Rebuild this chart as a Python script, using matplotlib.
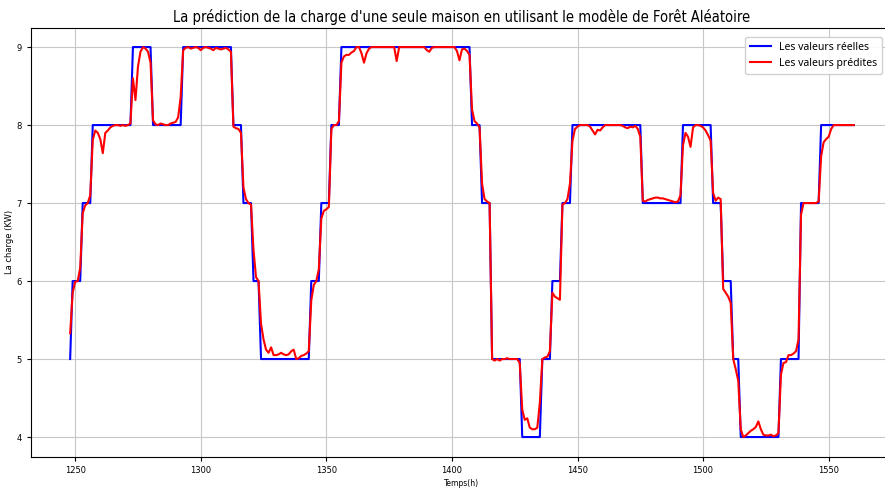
import numpy as np
import matplotlib
matplotlib.use("Agg")
import matplotlib.pyplot as plt

# heures de la fenêtre de test
start_hour = 1248
end_hour = 1560

# charge réelle : paliers (niveau en kW, nombre d'heures)
real_levels = [5, 6, 7, 8, 9, 8, 9, 8, 7, 6, 5, 6, 7, 8, 9, 8, 7, 5, 4, 5, 6, 7, 8, 7, 8, 7, 6, 5, 4, 5, 7, 8]
real_hours = [1, 4, 4, 16, 8, 12, 20, 4, 4, 3, 20, 4, 4, 4, 52, 4, 4, 12, 8, 4, 4, 4, 28, 16, 12, 4, 4, 3, 16, 8, 8, 14]

# charge prédite par la forêt aléatoire, heure par heure
predicted = [
    5.33, 5.85, 5.99, 6.0, 6.17, 6.87, 6.97, 7.0, 7.1,
    7.81, 7.93, 7.9, 7.82, 7.64, 7.9, 7.93, 7.97, 7.99, 8.0, 8.0, 7.99, 8.0, 7.99, 8.0, 8.02,
    8.6, 8.32, 8.75, 8.94, 9.0, 8.98, 8.94, 8.8,
    8.06, 8.01, 8.0, 8.02, 8.01, 8.0, 8.0, 8.02, 8.03, 8.04, 8.1, 8.36,
    8.96, 8.99, 9.0, 8.98, 8.99, 9.0, 8.99, 8.96, 8.99, 9.0, 8.99, 8.98, 8.96, 8.99, 8.98, 8.97, 8.98, 8.99, 8.97, 8.94,
    7.98, 7.96, 7.95, 7.9, 7.2, 7.05, 7.0, 6.98, 6.4, 6.05, 6.0,
    5.45, 5.25, 5.12, 5.08, 5.15, 5.05, 5.05, 5.06, 5.08, 5.06, 5.05, 5.06, 5.1, 5.12, 5.0, 5.01, 5.04, 5.05, 5.07, 5.1,
    5.75, 5.95, 6.0, 6.15, 6.8, 6.9, 6.92, 6.95, 7.95, 8.0, 8.0, 8.05,
    8.8, 8.88, 8.9, 8.9, 8.93, 8.95, 9.0, 9.0, 8.92, 8.8, 8.92, 8.98, 9.0,
    9.0, 9.0, 9.0, 9.0, 9.0, 9.0, 9.0, 9.0, 9.0, 8.82, 9.0,
    9.0, 9.0, 9.0, 9.0, 9.0, 9.0, 9.0, 9.0, 9.0, 9.0, 8.96, 8.94, 8.99,
    9.0, 9.0, 9.0, 9.0, 9.0, 9.0, 9.0, 9.0, 9.0, 8.95, 8.83, 8.97, 8.98, 8.95, 8.9,
    8.2, 8.05, 8.02, 7.97, 7.25, 7.05, 7.02, 7.0,
    5.0, 4.98, 5.0, 4.98, 5.0, 5.0, 5.01, 5.0, 5.0, 5.0, 5.0, 4.95,
    4.35, 4.22, 4.24, 4.12, 4.1, 4.1, 4.12, 4.44,
    5.0, 5.02, 5.03, 5.1, 5.85, 5.8, 5.78, 5.76, 6.98, 7.0, 7.05, 7.25,
    7.8, 7.95, 7.98, 8.0, 8.0, 8.0, 8.0, 7.98, 7.93, 7.88, 7.94, 7.93, 7.97,
    8.0, 8.0, 8.0, 8.0, 8.0, 8.0, 8.0, 7.99, 7.97, 7.96, 7.98, 7.97, 7.99, 7.95, 7.85,
    7.03, 7.02, 7.04, 7.05, 7.06, 7.07, 7.07, 7.06, 7.06, 7.05, 7.04, 7.03, 7.02, 7.01, 7.02, 7.1,
    7.74, 7.9, 7.85, 7.72, 7.97, 8.0, 8.0, 7.99, 7.97, 7.93, 7.87, 7.8,
    7.13, 7.03, 7.07, 7.05, 5.9, 5.85, 5.8, 5.72, 5.0, 4.87, 4.72,
    4.1, 4.0, 4.02, 4.05, 4.08, 4.1, 4.13, 4.2, 4.1, 4.03, 4.02, 4.02, 4.03, 4.01, 4.02, 4.05,
    4.8, 4.95, 4.96, 5.05, 5.05, 5.07, 5.1, 5.25, 6.85, 7.0, 7.0, 7.0, 7.0, 7.0, 7.0, 7.02,
    7.6, 7.78, 7.82, 7.85, 7.95, 8.0, 8.0, 8.0, 8.0, 8.0, 8.0, 8.0, 8.0, 8.0,
]

hours = np.arange(start_hour, end_hour + 1)
real = np.repeat(real_levels, real_hours)

fig = plt.figure(figsize=(8.85, 4.88), dpi=100)
ax = fig.add_axes([0.035, 0.0645, 0.974, 0.879])

ax.plot(hours, real, color="blue", linewidth=1.5, label="Les valeurs réelles")
ax.plot(hours, predicted, color="red", linewidth=1.5, label="Les valeurs prédites")

ax.set_ylim(3.75, 9.25)
ax.set_yticks([4, 5, 6, 7, 8, 9])
ax.grid(True, color="#c8c8c8", linewidth=0.8)

ax.set_title("La prédiction de la charge d'une seule maison en utilisant le modèle de Forêt Aléatoire",
             fontsize=10.5, family="DejaVu Sans", stretch="condensed", pad=4)
ax.set_xlabel("Temps(h)", fontsize=5.5, labelpad=3)
ax.set_ylabel("La charge (KW)", fontsize=6)
ax.yaxis.set_label_coords(-0.02, 0.5)
ax.tick_params(labelsize=6, length=3)

ax.legend(loc="upper right", bbox_to_anchor=(1.003, 0.935), bbox_transform=fig.transFigure,
          prop={"family": "Noto Sans", "stretch": "condensed", "size": 7.5},
          handlelength=2.0, framealpha=0.9, borderpad=0.5, labelspacing=0.45)

fig.savefig("out.png", dpi=100)
